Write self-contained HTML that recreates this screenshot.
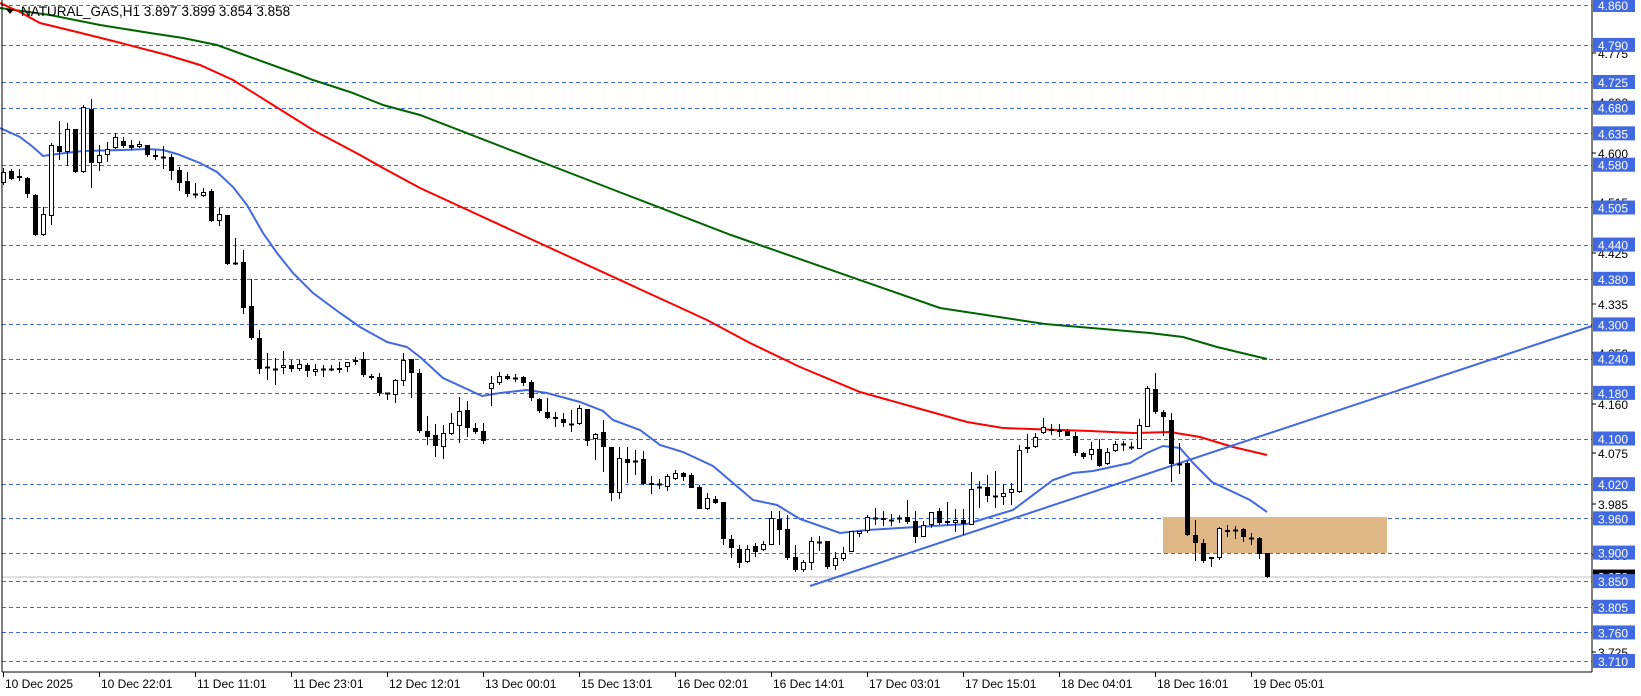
<!DOCTYPE html>
<html><head><meta charset="utf-8"><style>
html,body{margin:0;padding:0;background:#fff;}
svg{display:block;font-family:"Liberation Sans","DejaVu Sans",sans-serif;}
</style></head><body>
<svg id="c" width="1641" height="696" viewBox="0 0 1641 696" xmlns="http://www.w3.org/2000/svg">
<rect width="1641" height="696" fill="#fff"/>
<g id="grid"></g>
<rect x="1163" y="517" width="224" height="36" fill="#deb887"/>
<line x1="2" y1="577" x2="1592" y2="577" stroke="#c0c0c0" stroke-width="1"/>
<polyline fill="none" stroke="#006400" stroke-width="2" points="0,8 50,15 100,25 150,33 183,38 217,45 250,57 300,75 313,80 350,92 383,105 420,115 627,195 731,235 940,308 1045,324 1150,333 1183,337 1217,347 1267,359"/>
<polyline fill="none" stroke="#ff0000" stroke-width="2" points="0,3 20,12 40,23 77,32 117,42 167,55 200,65 233,80 273,105 313,130 360,155 383,168 420,188 522,235 707,320 750,343 800,367 860,392 917,408 967,422 1003,428 1090,431 1133,433 1170,432 1200,437 1233,447 1267,455"/>
<polyline fill="none" stroke="#4169e1" stroke-width="2" points="0,128 20,137 33,147 43,156 57,154 83,151 123,150 147,149 163,150 177,154 200,163 217,172 233,187 247,205 263,233 277,253 293,273 313,293 340,313 360,327 387,342 407,347 420,357 443,378 482,396 500,393 527,390 547,393 580,402 603,411 613,420 640,430 660,445 683,452 713,466 733,483 753,500 777,505 800,519 840,533 867,530 967,524 1013,510 1053,480 1073,473 1093,471 1130,463 1147,453 1163,446 1180,448 1193,463 1212,482 1250,500 1267,512"/>
<line x1="810" y1="586" x2="1592" y2="326" stroke="#4169e1" stroke-width="2"/>
<g id="bars"></g>
<line x1="2" y1="0" x2="2" y2="672" stroke="#000" stroke-width="1"/>
<line x1="1592" y1="0" x2="1592" y2="672" stroke="#000" stroke-width="1"/>
<line x1="2" y1="672" x2="1592" y2="672" stroke="#000" stroke-width="1"/>
<g id="axis" font-size="12"></g>
<polygon points="6,9 14,9 10,14" fill="#000"/>
<text x="21" y="16" font-size="13.5" fill="#000">NATURAL_GAS,H1  3.897 3.899 3.854 3.858</text>
</svg>
<script>
var NS="http://www.w3.org/2000/svg";
function el(t,a,p){var e=document.createElementNS(NS,t);for(var k in a)e.setAttribute(k,a[k]);p.appendChild(e);return e;}
function Y(p){return 5+(4.860-p)*570.4;}
var grid=document.getElementById('grid'),axis=document.getElementById('axis');
var blues=[4.860,4.790,4.725,4.680,4.635,4.580,4.505,4.440,4.380,4.300,4.240,4.180,4.100,4.020,3.960,3.900,3.850,3.805,3.760,3.710];
var blacks=[4.775,4.690,4.600,4.515,4.425,4.335,4.250,4.160,4.075,3.985,3.895,3.810,3.725];
blues.forEach(function(p){var y=Math.round(Y(p))+0.5;el('line',{x1:2,y1:y,x2:1592,y2:y,stroke:'#4169e1','stroke-width':1,'stroke-dasharray':'4,3'},grid);});
blacks.forEach(function(p){var y=Math.round(Y(p));el('line',{x1:1592,y1:y,x2:1596,y2:y,stroke:'#000'},axis);var t=el('text',{x:1598,y:y+5,fill:'#000'},axis);t.textContent=p.toFixed(3);});
var yc=Y(3.858);el('rect',{x:1593,y:yc-7,width:42,height:14,fill:'#000'},axis);
var tc=el('text',{x:1598,y:yc+5,fill:'#fff'},axis);tc.textContent='3.858';
blues.forEach(function(p){var y=Y(p);el('rect',{x:1593,y:y-7,width:42,height:14,fill:'#4169e1'},axis);var t=el('text',{x:1598,y:y+5,fill:'#fff'},axis);t.textContent=p.toFixed(3);});
var dates=['10 Dec 2025','10 Dec 22:01','11 Dec 11:01','11 Dec 23:01','12 Dec 12:01','13 Dec 00:01','15 Dec 13:01','16 Dec 02:01','16 Dec 14:01','17 Dec 03:01','17 Dec 15:01','18 Dec 04:01','18 Dec 16:01','19 Dec 05:01'];
dates.forEach(function(d,k){var x=3+96*k;el('line',{x1:x+0.5,y1:672,x2:x+0.5,y2:677,stroke:'#000'},axis);var t=el('text',{x:x+2,y:688,fill:'#000'},axis);t.textContent=d;});
var D=[[183,172,168,185],[171,179,169,180],[176,178,169,181],[178,194,177,198],[195,235,194,236],[235,214,207,236],[216,145,143,225],[146,152,121,160],[152,129,123,166],[129,172,129,173],[172,107,105,173],[109,163,99,188],[163,155,145,171],[155,149,142,162],[148,137,133,149],[141,146,137,148],[145,148,140,150],[147,144,141,148],[145,155,145,157],[155,157,150,160],[157,157,146,169],[157,171,154,180],[170,183,167,191],[181,194,172,197],[194,194,183,198],[196,192,188,197],[191,221,189,222],[221,214,208,226],[215,264,215,265],[263,263,238,265],[262,308,250,314],[306,338,279,340],[338,369,330,374],[367,367,353,380],[369,369,358,385],[368,365,351,374],[365,369,360,372],[369,364,360,371],[365,371,363,377],[372,369,364,376],[369,370,365,377],[369,369,365,371],[368,370,362,373],[367,362,362,372],[360,362,357,365],[359,375,352,377],[376,378,374,380],[377,393,373,396],[393,394,393,400],[395,380,379,403],[381,360,353,386],[359,373,359,398],[373,431,369,433],[431,437,416,445],[435,446,424,457],[447,433,425,459],[434,423,413,435],[426,411,397,443],[410,428,401,437],[428,432,423,434],[431,441,423,444],[389,383,376,406],[383,376,372,385],[376,379,374,380],[378,378,374,382],[377,383,376,386],[382,398,380,401],[399,411,398,413],[412,418,398,419],[417,419,412,427],[419,423,413,427],[424,425,410,432],[424,408,405,425],[409,441,409,446],[439,434,433,460],[432,447,420,472],[447,493,447,501],[493,458,447,499],[459,463,447,483],[461,461,450,475],[459,484,451,485],[485,483,476,494],[484,485,479,489],[487,476,474,491],[479,473,470,480],[473,477,472,481],[475,488,473,488],[487,509,485,509],[509,498,493,510],[499,503,496,504],[502,539,502,545],[539,548,535,558],[549,563,545,568],[562,549,545,563],[546,552,543,557],[550,544,541,551],[545,518,511,545],[519,530,511,545],[529,558,515,560],[557,570,545,572],[570,562,560,572],[563,541,537,570],[542,542,536,551],[541,567,541,569],[566,558,552,570],[559,553,547,561],[552,531,531,552],[534,531,531,537],[531,517,515,533],[518,518,508,525],[518,520,511,526],[520,520,514,526],[518,518,515,523],[517,522,500,524],[521,537,511,543],[537,525,521,537],[525,512,512,528],[511,523,508,525],[521,523,502,525],[523,520,509,532],[520,524,509,535],[525,489,472,525],[487,488,481,508],[487,496,475,502],[496,496,471,508],[497,493,484,505],[493,489,483,505],[492,450,445,493],[449,447,434,453],[447,437,433,448],[433,427,418,434],[429,431,424,435],[430,432,424,437],[431,436,429,436],[436,453,432,456],[453,457,452,459],[455,449,442,460],[449,466,439,467],[464,452,448,465],[451,444,441,452],[444,445,441,451],[447,448,442,450],[449,425,419,449],[427,388,386,427],[389,412,373,414],[412,417,410,436],[420,464,413,482],[464,464,443,474],[463,535,461,536],[535,543,520,561],[543,561,539,563],[559,557,557,567],[558,528,527,560],[532,530,525,537],[530,530,526,539],[529,537,528,542],[538,538,533,545],[538,554,537,559],[553,577,553,578]];
var bars=document.getElementById('bars');
D.forEach(function(b,i){var x=3+8*i,o=b[0],c=b[1],h=b[2],l=b[3];
el('line',{x1:x+0.5,y1:h,x2:x+0.5,y2:l,stroke:'#000','stroke-width':1},bars);
var top=Math.min(o,c),bot=Math.max(o,c);
if(bot-top<1.5){el('rect',{x:x-2,y:top-0.5,width:5,height:2,fill:'#000'},bars);}
else if(c<o){el('rect',{x:x-1.5,y:top+0.5,width:4,height:bot-top-1,fill:'#fff',stroke:'#000','stroke-width':1},bars);}
else{el('rect',{x:x-2,y:top,width:5,height:bot-top,fill:'#000'},bars);}
});
</script>
</body></html>
